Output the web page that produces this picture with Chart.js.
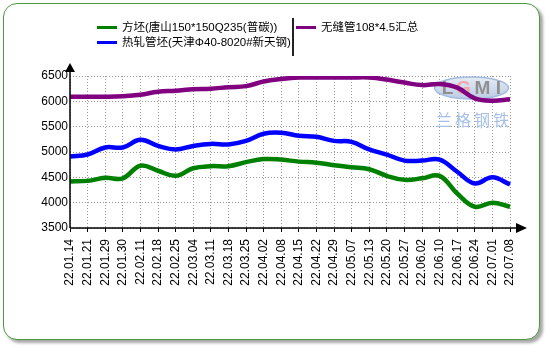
<!DOCTYPE html>
<html>
<head>
<meta charset="utf-8">
<script src="https://cdn.jsdelivr.net/npm/chart.js@4"></script>
<style>
  html, body { margin: 0; padding: 0; background: #fff; }
  #wrap { position: relative; width: 550px; height: 350px; overflow: hidden; }
  #frame {
    position: absolute; left: 3px; top: 3px; width: 535px; height: 335px;
    border: 1.5px solid #4c9a3c; border-radius: 14px;
    box-shadow: 3px 3px 3px rgba(0,0,0,0.35); background: #fff;
  }
  #chart { position: absolute; left: 0; top: 0; }
  #legend { position: absolute; left: 0; top: 0; font: 11.5px "Liberation Sans", "Noto Sans CJK SC", sans-serif; color: #000; }
  .item { position: absolute; white-space: nowrap; line-height: 15px; }
  .sw { display: inline-block; width: 20px; height: 3px; margin-right: 5px; vertical-align: middle; }
  .sep { position: absolute; left: 292px; top: 18px; width: 2px; height: 38px; background: #222; }
</style>
</head>
<body>
<div id="wrap">
  <div id="frame"></div>
  <canvas id="chart" width="550" height="350"></canvas>
  <div id="legend"><div class="sep"></div></div>
</div>
<script>
/* =========================
   DATA
========================= */

const labels = [
  '22.01.14', '22.01.21', '22.01.29', '22.01.30', '22.02.11', '22.02.18', '22.02.25',
  '22.03.04', '22.03.11', '22.03.18', '22.03.25', '22.04.02', '22.04.08', '22.04.15',
  '22.04.22', '22.04.29', '22.05.07', '22.05.13', '22.05.20', '22.05.27', '22.06.02',
  '22.06.10', '22.06.17', '22.06.24', '22.07.01', '22.07.08'
];

// 方坯(唐山150*150Q235(普碳))
const fangpi = [4420, 4430, 4490, 4480, 4730, 4630, 4530, 4680, 4720, 4720, 4800, 4860, 4850,
  4810, 4790, 4740, 4700, 4660, 4530, 4450, 4480, 4530, 4180, 3920, 4000, 3920];

// 热轧管坯(天津Φ40-8020#新天钢)
const rezha = [4910, 4950, 5090, 5090, 5240, 5120, 5050, 5120, 5160, 5150, 5220, 5360, 5380,
  5320, 5300, 5220, 5200, 5050, 4950, 4830, 4830, 4850, 4610, 4380, 4500, 4360];

// 无缝管108*4.5汇总
const wufeng = [6090, 6090, 6090, 6100, 6130, 6190, 6210, 6240, 6250, 6280, 6300, 6390, 6440,
  6470, 6470, 6470, 6470, 6470, 6430, 6370, 6320, 6340, 6270, 6060, 6010, 6040];

const seriesNames = ['方坯(唐山150*150Q235(普碳))', '热轧管坯(天津Φ40-8020#新天钢)', '无缝管108*4.5汇总'];
const seriesColors = ['#008000', '#0000ff', '#800080'];

const yMin = 3500;
const yMax = 6500;
const yStep = 500;

/* =========================
   LEGEND (html)
========================= */

const legendPos = [[97, 20], [97, 35], [296, 20]];
const legendBox = document.getElementById('legend');
seriesNames.forEach((name, i) => {
  const el = document.createElement('div');
  el.className = 'item';
  el.style.left = legendPos[i][0] + 'px';
  el.style.top = legendPos[i][1] + 'px';
  el.innerHTML = `<span class="sw" style="background:${seriesColors[i]}"></span>`;
  el.appendChild(document.createTextNode(name));
  legendBox.appendChild(el);
});

/* =========================
   PLUGINS
========================= */

const axesPlugin = {
  id: 'axesPlugin',

  // LGMI watermark behind the lines
  beforeDatasetsDraw(chart) {
    const { ctx, chartArea: a } = chart;
    const cx = a.right - 38.5;
    const cy = a.top + 12;

    ctx.save();
    const g = ctx.createLinearGradient(0, cy - 11, 0, cy + 11);
    g.addColorStop(0, '#e6ecf6');
    g.addColorStop(1, '#bccbe4');
    ctx.fillStyle = g;
    ctx.beginPath();
    ctx.ellipse(cx, cy, 37, 11, 0, 0, Math.PI * 2);
    ctx.fill();
    ctx.strokeStyle = '#a3bcdf';
    ctx.lineWidth = 1.5;
    ctx.stroke();

    ctx.font = 'bold 19px "Liberation Sans"';
    ctx.textAlign = 'center';
    ctx.textBaseline = 'middle';
    const letters = [['L', '#8f8f8f', -24], ['G', '#f2a4ac', -8], ['M', '#8f8f8f', 11], ['I', '#8f8f8f', 27]];
    letters.forEach(([ch, col, dx]) => {
      ctx.fillStyle = col;
      ctx.fillText(ch, cx + dx, cy + 1);
    });

    ctx.font = '16px "Noto Sans CJK SC"';
    ctx.fillStyle = '#a6c0e6';
    ['兰', '格', '钢', '铁'].forEach((ch, i) => {
      ctx.fillText(ch, a.right - 66 + i * 19, a.top + 44);
    });
    ctx.restore();
  },

  // axis lines with arrow heads
  afterDraw(chart) {
    const { ctx, chartArea: a } = chart;
    ctx.save();
    ctx.strokeStyle = '#000';
    ctx.lineWidth = 1.5;
    ctx.beginPath();
    ctx.moveTo(a.left, a.bottom);
    ctx.lineTo(a.left, a.top - 6);
    ctx.moveTo(a.left, a.bottom);
    ctx.lineTo(a.right + 8, a.bottom);
    ctx.stroke();

    ctx.fillStyle = '#000';
    ctx.beginPath();
    ctx.moveTo(a.left, a.top - 13);
    ctx.lineTo(a.left - 5, a.top - 4);
    ctx.lineTo(a.left + 5, a.top - 4);
    ctx.closePath();
    ctx.fill();

    ctx.beginPath();
    ctx.moveTo(a.right + 17, a.bottom);
    ctx.lineTo(a.right + 6, a.bottom - 5);
    ctx.lineTo(a.right + 6, a.bottom + 5);
    ctx.closePath();
    ctx.fill();
    ctx.restore();
  }
};

/* =========================
   MAIN CHART
========================= */

function lineSet(label, data, color) {
  return {
    label: label,
    data: data,
    borderColor: color,
    backgroundColor: color,
    borderWidth: 4.5,
    pointRadius: 0,
    fill: false,
    tension: 0.4
  };
}

const ctx = document.getElementById('chart').getContext('2d');

new Chart(ctx, {
  type: 'line',
  data: {
    labels: labels,
    datasets: [
      lineSet(seriesNames[2], wufeng, seriesColors[2]),
      lineSet(seriesNames[1], rezha, seriesColors[1]),
      lineSet(seriesNames[0], fangpi, seriesColors[0])
    ]
  },
  options: {
    responsive: false,
    animation: false,
    devicePixelRatio: 1,
    layout: {
      padding: { left: 0, right: 40, top: 76, bottom: 0 }
    },
    plugins: {
      legend: { display: false },
      tooltip: { enabled: false }
    },
    scales: {
      x: {
        grid: {
          color: '#999',
          lineWidth: 1,
          tickColor: '#000',
          tickLength: 4,
          tickBorderDash: []
        },
        border: { display: false, dash: [1, 2] },
        ticks: {
          autoSkip: false,
          minRotation: 90,
          maxRotation: 90,
          padding: 7,
          color: '#000',
          font: { family: '"Liberation Sans", Arial, sans-serif', size: 12 }
        },
        afterFit(scale) {
          scale.height = 122;
        }
      },
      y: {
        min: yMin,
        max: yMax,
        grid: {
          color: '#999',
          lineWidth: 1,
          drawTicks: false
        },
        border: { display: false, dash: [1, 2] },
        ticks: {
          stepSize: yStep,
          padding: 2,
          color: '#000',
          font: { family: '"Liberation Sans", Arial, sans-serif', size: 12 },
          callback: function(value) {
            return String(value);
          }
        },
        afterFit(scale) {
          scale.width = 70;
        }
      }
    }
  },
  plugins: [axesPlugin]
});
</script>
</body>
</html>
